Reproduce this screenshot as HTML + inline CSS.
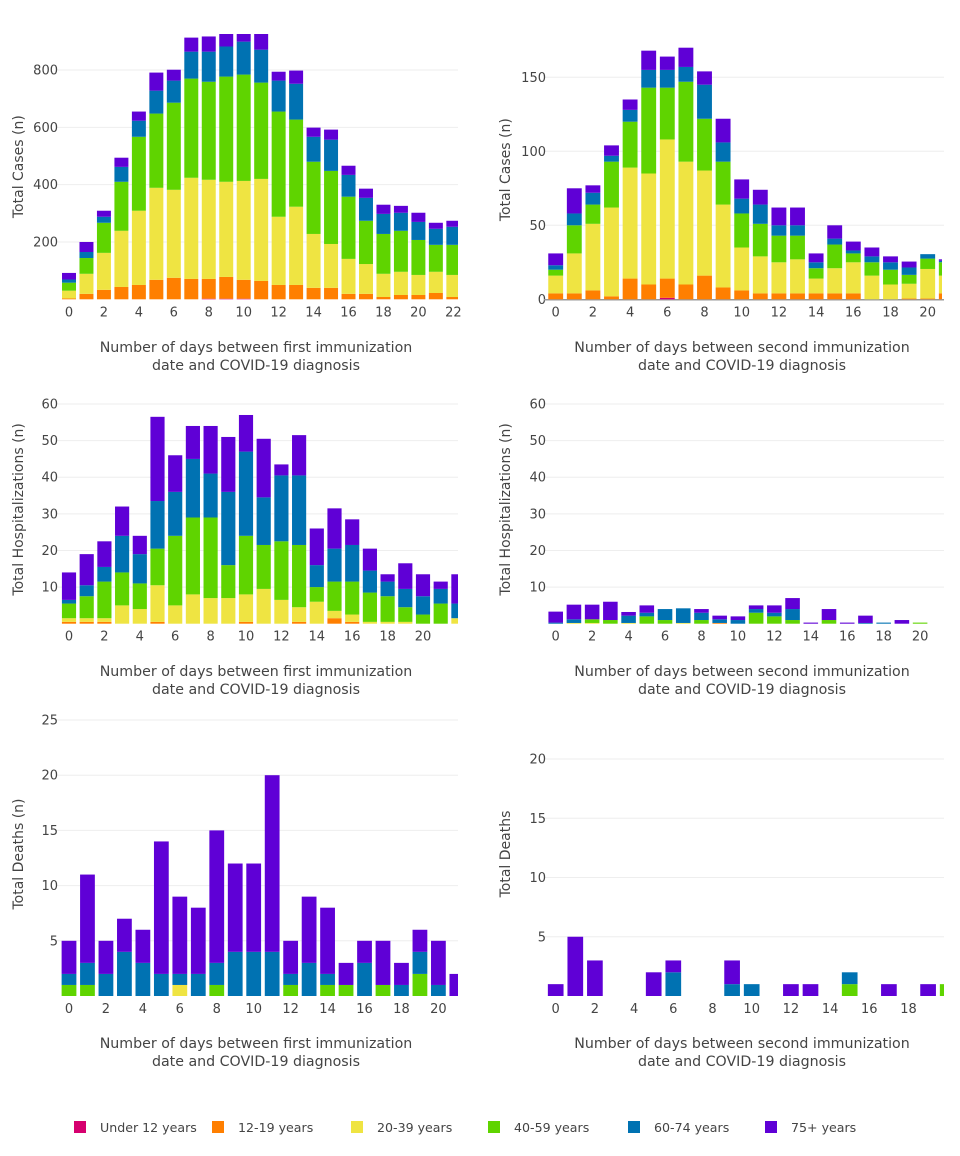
<!DOCTYPE html>
<html><head><meta charset="utf-8"><style>
body{margin:0;background:#fff;font-family:"DejaVu Sans",sans-serif;}
svg text{font-family:"DejaVu Sans","Liberation Sans",sans-serif;fill:#444;}
</style></head><body>
<svg id="chart" width="960" height="1152" viewBox="0 0 960 1152" xmlns="http://www.w3.org/2000/svg"></svg>
<script>
// Age groups (stack order bottom->top)
const groups = ["Under 12 years","12-19 years","20-39 years","40-59 years","60-74 years","75+ years"];
const colors = ["#d6006f","#ff7f00","#efe442","#5fd400","#0072b2","#5f00d6"];

// Panel 1: cases after first dose (days 0..22) per age group
const c1_u12 = [0,0,0,0,0,0,0,0,2,2,2,0,0,0,0,0,0,0,0,0,0,0,0];
const c1_1219 = [3,19,33,43,50,68,75,71,69,76,66,64,50,50,40,40,19,19,8,15,15,22,8];
const c1_2039 = [27,70,129,196,259,321,307,353,346,332,345,356,238,273,188,153,122,104,81,81,70,74,77];
const c1_4059 = [28,55,105,171,258,259,304,346,342,367,371,336,367,304,252,255,217,151,139,143,122,94,105];
const c1_6074 = [11,21,21,52,56,80,77,94,105,105,115,115,108,125,87,109,76,80,70,63,63,56,63];
const c1_75 = [23,35,21,32,32,63,38,49,53,53,40,64,31,46,32,35,32,32,32,24,32,21,21];
// Panel 2: cases after second dose (days 0..21)
const c2_u12 = [0,0,0,0,0,0,1,0,0,0,0,0,0,0,0,0,0,0,0,0,0,0];
const c2_1219 = [4,4,6,2,14,10,13,10,16,8,6,4,4,4,4,4,4,0,0,0.5,0.5,4];
const c2_2039 = [12,27,45,60,75,75,94,83,71,56,29,25,21,23,10,17,21,16,10,10,20,12];
const c2_4059 = [4,19,13,31,31,58,35,54,35,29,23,22,18,16,7,16,6,9,10,6,7,9];
const c2_6074 = [3,8,8,4,8,12,12,10,23,13,10,13,7,7,4,4,2,4,5,5,3,1];
const c2_75 = [8,17,5,7,7,13,9,13,9,16,13,10,12,12,6,9,6,6,4,4,0,1];
// Panel 3: hospitalizations after first dose (days 0..22)
const h1_u12 = [0,0,0,0,0,0,0,0,0,0,0,0,0,0,0,0,0,0,0,0,0,0,0];
const h1_1219 = [0.5,0.5,0.5,0,0,0.5,0,0,0,0,0.5,0,0,0.5,0,1.5,0.5,0,0,0,0,0,0];
const h1_2039 = [1,1,1,5,4,10,5,8,7,7,7.5,9.5,6.5,4,6,2,2,0.5,0.5,0.5,0,0,1.5];
const h1_4059 = [4,6,10,9,7,10,19,21,22,9,16,12,16,17,4,8,9,8,7,4,2.5,5.5,0];
const h1_6074 = [1,3,4,10,8,13,12,16,12,20,23,13,18,19,6,9,10,6,4,5,5,4,4];
const h1_75 = [7.5,8.5,7,8,5,23,10,9,13,15,10,16,3,11,10,11,7,6,2,7,6,2,8];
// Panel 4: hospitalizations after second dose (days 0..20)
const h2_u12 = [0,0,0,0,0,0,0,0,0,0,0,0,0,0,0,0,0,0,0,0,0];
const h2_1219 = [0,0,0,0,0,0,0,0,0,0.2,0,0,0,0,0,0,0,0,0,0,0];
const h2_2039 = [0,0.2,0.2,0,0.2,0,0,0.2,0,0,0,0,0,0,0,0,0,0,0,0,0];
const h2_4059 = [0,0,1,1,0,2,1,0,1,0,0,3,2,1,0,1,0,0,0,0,0.3];
const h2_6074 = [0.3,1,0,0,2,1,3,4,2,1,1,1,1,3,0,0,0,0.2,0.3,0,0];
const h2_75 = [3,4,4,5,1,2,0,0,1,1,1,1,2,3,0.3,3,0.3,2,0,1,0];
// Panel 5: deaths after first dose (days 0..21)
const d1_u12 = [0,0,0,0,0,0,0,0,0,0,0,0,0,0,0,0,0,0,0,0,0,0];
const d1_1219 = [0,0,0,0,0,0,0,0,0,0,0,0,0,0,0,0,0,0,0,0,0,0];
const d1_2039 = [0,0,0,0,0,0,1,0,0,0,0,0,0,0,0,0,0,0,0,0,0,0];
const d1_4059 = [1,1,0,0,0,0,0,0,1,0,0,0,1,0,1,1,0,1,0,2,0,0];
const d1_6074 = [1,2,2,4,3,2,1,2,2,4,4,4,1,3,1,0,3,0,1,2,1,0];
const d1_75 = [3,8,3,3,3,12,7,6,12,8,8,16,3,6,6,2,2,4,2,2,4,2];
// Panel 6: deaths after second dose (days 0..20)
const d2_u12 = [0,0,0,0,0,0,0,0,0,0,0,0,0,0,0,0,0,0,0,0,0];
const d2_1219 = [0,0,0,0,0,0,0,0,0,0,0,0,0,0,0,0,0,0,0,0,0];
const d2_2039 = [0,0,0,0,0,0,0,0,0,0,0,0,0,0,0,0,0,0,0,0,0];
const d2_4059 = [0,0,0,0,0,0,0,0,0,0,0,0,0,0,0,1,0,0,0,0,1];
const d2_6074 = [0,0,0,0,0,0,2,0,0,1,1,0,0,0,0,1,0,0,0,0,0];
const d2_75 = [1,5,3,0,0,2,1,0,0,2,0,0,1,1,0,0,0,1,0,1,0];

// tick labels
const yt1 = [200,400,600,800], yt2 = [0,50,100,150], yt3 = [10,20,30,40,50,60], yt4 = [10,20,30,40,50,60], yt5 = [5,10,15,20,25], yt6 = [5,10,15,20];
const xt1 = [0,2,4,6,8,10,12,14,16,18,20,22], xt2 = [0,2,4,6,8,10,12,14,16,18,20], xt3 = [0,2,4,6,8,10,12,14,16,18,20], xt4 = [0,2,4,6,8,10,12,14,16,18,20], xt5 = [0,2,4,6,8,10,12,14,16,18,20], xt6 = [0,2,4,6,8,10,12,14,16,18];

const NS = "http://www.w3.org/2000/svg";
const svg = document.getElementById("chart");
function mk(tag, attrs, parent){const e=document.createElementNS(NS,tag);for(const k in attrs)e.setAttribute(k,attrs[k]);(parent||svg).appendChild(e);return e;}

const panels = [
 {id:"cases-first", series:[c1_u12,c1_1219,c1_2039,c1_4059,c1_6074,c1_75], L:56,R:458,CR:458,T:34,x0:69,dx:17.47,y0:299.3,yref:800,yrefpx:70,yt:yt1,xt:xt1,ytitle:"Total Cases (n)",xt1:"Number of days between first immunization",cx:256,ty:347,tx:18,axisline:false},
 {id:"cases-second", series:[c2_u12,c2_1219,c2_2039,c2_4059,c2_6074,c2_75], L:544,R:944,CR:942,T:40,x0:555.7,dx:18.6,y0:299.3,yref:150,yrefpx:77.3,yt:yt2,xt:xt2,ytitle:"Total Cases (n)",xt1:"Number of days between second immunization",cx:742,ty:347,tx:505,axisline:true},
 {id:"hosp-first", series:[h1_u12,h1_1219,h1_2039,h1_4059,h1_6074,h1_75], L:56,R:458,CR:458,T:395,x0:69,dx:17.7,y0:623.7,yref:60,yrefpx:404,yt:yt3,xt:xt3,ytitle:"Total Hospitalizations (n)",xt1:"Number of days between first immunization",cx:256,ty:671,tx:18,axisline:false},
 {id:"hosp-second", series:[h2_u12,h2_1219,h2_2039,h2_4059,h2_6074,h2_75], L:544,R:944,CR:944,T:395,x0:555.7,dx:18.22,y0:623.7,yref:60,yrefpx:404,yt:yt4,xt:xt4,ytitle:"Total Hospitalizations (n)",xt1:"Number of days between second immunization",cx:742,ty:671,tx:505,axisline:false},
 {id:"deaths-first", series:[d1_u12,d1_1219,d1_2039,d1_4059,d1_6074,d1_75], L:56,R:458,CR:458,T:712,x0:69,dx:18.47,y0:996,yref:25,yrefpx:720,yt:yt5,xt:xt5,ytitle:"Total Deaths (n)",xt1:"Number of days between first immunization",cx:256,ty:1043,tx:18,axisline:false},
 {id:"deaths-second", series:[d2_u12,d2_1219,d2_2039,d2_4059,d2_6074,d2_75], L:544,R:944,CR:944,T:712,x0:555.7,dx:19.6,y0:996,yref:20,yrefpx:759,yt:yt6,xt:xt6,ytitle:"Total Deaths",xt1:"Number of days between second immunization",cx:742,ty:1043,tx:505,axisline:false}
];

const defs = mk("defs",{});
panels.forEach((p,pi)=>{
  const xs = d => p.x0 + d*p.dx;
  const ys = v => p.y0 - v*(p.y0-p.yrefpx)/p.yref;
  const g = mk("g",{});
  
  
  const cp = mk("clipPath",{id:"clip"+pi},defs);
  mk("rect",{x:p.L,y:p.T,width:p.CR-p.L,height:p.y0-p.T+1},cp);
  p.yt.forEach(t=>{
    const y = ys(t);
    if(t>0){const gl=mk("line",{x1:p.L,x2:p.R,y1:y,y2:y,stroke:"#eeeeee","stroke-width":1},g);
      
      }
    const tt = mk("text",{x:p.L+2,y:y+4.5,"font-size":13,"text-anchor":"end"},g);
    
    
    tt.textContent = t;
  });
  if(p.axisline){const al=mk("line",{x1:p.L,x2:p.R,y1:p.y0+0.5,y2:p.y0+0.5,stroke:"#999","stroke-width":1.5},g);
    
    }
  const bg = mk("g",{"clip-path":"url(#clip"+pi+")"},g);
  const n = p.series[0].length;
  const bw = p.dx*0.8;
  for(let d=0; d<n; d++){
    let cum = 0;
    p.series.forEach((s,si)=>{
      const v = s[d];
      if(v>0){
        const yTop = ys(cum+v), yBot = ys(cum);
        const r = mk("rect",{x:xs(d)-bw/2,y:yTop,width:bw,height:Math.max(0,yBot-yTop),fill:colors[si]},bg);
        
        
      }
      cum += v;
    });
  }
  p.xt.forEach(t=>{
    const tx = mk("text",{x:xs(t),y:p.y0+17,"font-size":13,"text-anchor":"middle"},g);
    
    
    tx.textContent = t;
  });
  const yt = mk("text",{x:p.tx+5,y:(p.T+p.y0)/2,"font-size":14,"text-anchor":"middle",transform:"rotate(-90 "+(p.tx+5)+" "+((p.T+p.y0)/2)+")"},g);
  
  
  yt.textContent = p.ytitle;
  const xa = mk("text",{x:p.cx,y:p.ty+5,"font-size":14.2,"text-anchor":"middle"},g);
  
  
  xa.textContent = p.xt1;
  const xb = mk("text",{x:p.cx,y:p.ty+23,"font-size":14.2,"text-anchor":"middle"},g);
  
  
  xb.textContent = "date and COVID-19 diagnosis";
});

const legX = [74,212,351,488,628,765];
const lg = mk("g",{});


groups.forEach((gname,i)=>{
  const sw = mk("rect",{x:legX[i],y:1121,width:12,height:12,fill:colors[i]},lg);
  
  
  const t = mk("text",{x:legX[i]+26,y:1132,"font-size":12.6},lg);
  
  
  t.textContent = gname;
});
</script>
</body></html>
